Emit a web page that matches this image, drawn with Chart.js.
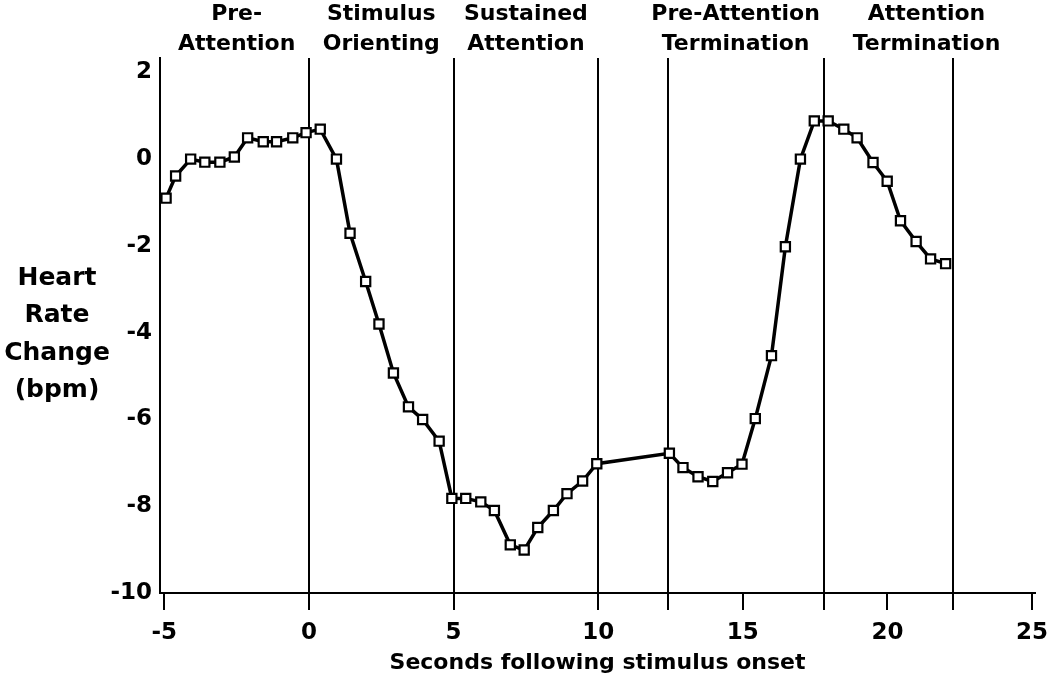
<!DOCTYPE html>
<html>
<head>
<meta charset="utf-8">
<script src="https://cdn.jsdelivr.net/npm/chart.js@4/dist/chart.umd.min.js"></script>
<style>
  html, body { margin: 0; padding: 0; background: #fff; }
  #wrap { width: 1050px; height: 687px; }
</style>
</head>
<body>
<div id="wrap"><canvas id="hrChart" width="1050" height="687"></canvas></div>
<script>
// seconds following stimulus onset
const timeSec = [-4.94, -4.61, -4.09, -3.6, -3.08, -2.58, -2.12, -1.58, -1.12, -0.56, -0.1, 0.39,
    0.95, 1.42, 1.96, 2.42, 2.92, 3.44, 3.93, 4.5, 4.94, 5.42, 5.94, 6.41, 6.96, 7.44, 7.91,
    8.45, 8.92, 9.46, 9.95, 12.46, 12.93, 13.45, 13.96, 14.47, 14.97, 15.43, 15.99, 16.47,
    16.99, 17.47, 17.95, 18.49, 18.95, 19.5, 19.99, 20.45, 20.99, 21.49, 22.01];

// heart rate change (bpm)
const hrChange = [-0.9, -0.39, 0.0, -0.07, -0.07, 0.05, 0.49, 0.4, 0.4, 0.49, 0.61, 0.69,
    0.0, -1.71, -2.82, -3.8, -4.93, -5.71, -6.0, -6.5, -7.82, -7.82, -7.9, -8.1, -8.89, -9.01, -8.49,
    -8.1, -7.71, -7.42, -7.02, -6.78, -7.11, -7.32, -7.43, -7.23, -7.03, -5.98, -4.53, -2.02,
    0.0, 0.88, 0.88, 0.69, 0.49, -0.08, -0.51, -1.42, -1.9, -2.3, -2.41];

// phase boundary lines (seconds) and phase names, with the second each name is centred on
const phaseBounds = [0, 5, 10, 12.4, 17.8, 22.25];
const phaseNames = [
    ['Pre-', 'Attention'],
    ['Stimulus', 'Orienting'],
    ['Sustained', 'Attention'],
    ['Pre-Attention', 'Termination'],
    ['Attention', 'Termination']
];
const phaseNameAt = [-2.5, 2.5, 7.5, 14.75, 21.35];

const xTitle = 'Seconds following stimulus onset';
const yTitle = ['Heart', 'Rate', 'Change', '(bpm)'];

const FONT = 'DejaVu Sans';
const tickFont = { family: FONT, size: 23, weight: 'bold' };

const phasePlugin = {
    id: 'phases',
    beforeDatasetsDraw(chart) {
        const ctx = chart.ctx;
        const area = chart.chartArea;
        const xs = chart.scales.x;
        ctx.save();
        ctx.strokeStyle = '#000';
        ctx.lineWidth = 2;
        phaseBounds.forEach(v => {
            const px = Math.round(xs.getPixelForValue(v));
            ctx.beginPath();
            ctx.moveTo(px, area.top);
            ctx.lineTo(px, area.bottom + 17);
            ctx.stroke();
        });
        ctx.restore();
    },
    afterDraw(chart) {
        const ctx = chart.ctx;
        const area = chart.chartArea;
        const xs = chart.scales.x;
        ctx.save();
        ctx.fillStyle = '#000';
        ctx.textAlign = 'center';
        ctx.textBaseline = 'middle';

        ctx.font = 'bold 22px "' + FONT + '"';
        phaseNames.forEach((lines, i) => {
            const cx = xs.getPixelForValue(phaseNameAt[i]);
            ctx.fillText(lines[0], cx, 14);
            ctx.fillText(lines[1], cx, 44);
        });

        // x title
        ctx.fillText(xTitle, (area.left + area.right) / 2, 663);

        // y title
        ctx.font = 'bold 25px "' + FONT + '"';
        yTitle.forEach((t, i) => {
            ctx.fillText(t, 57, 278 + i * 37.5);
        });
        ctx.restore();
    }
};

const config = {
    type: 'line',
    data: {
        datasets: [{
            data: timeSec.map((t, i) => ({ x: t, y: hrChange[i] })),
            borderColor: '#000',
            borderWidth: 3.5,
            tension: 0,
            pointStyle: 'rect',
            pointRadius: 6.5,
            pointBorderWidth: 2.2,
            pointBorderColor: '#000',
            pointBackgroundColor: '#fff'
        }]
    },
    options: {
        responsive: false,
        animation: false,
        layout: { padding: { top: 58, right: 15, left: 0, bottom: 0 } },
        plugins: {
            legend: { display: false },
            tooltip: { enabled: false }
        },
        scales: {
            x: {
                type: 'linear',
                min: -5.15,
                max: 25.1,
                ticks: {
                    stepSize: 5,
                    includeBounds: false,
                    color: '#000',
                    font: tickFont,
                    padding: 9,
                    maxRotation: 0
                },
                grid: {
                    drawOnChartArea: false,
                    drawTicks: true,
                    tickLength: 17,
                    color: '#000',
                    lineWidth: 2
                },
                border: { color: '#000', width: 2 },
                afterFit(s) {
                    s.height = 94;
                    s.paddingLeft = 0;
                    s.paddingRight = 0;
                }
            },
            y: {
                min: -10,
                max: 2.33,
                ticks: {
                    stepSize: 2,
                    includeBounds: false,
                    color: '#000',
                    font: tickFont,
                    padding: 0
                },
                grid: { display: false },
                border: { color: '#000', width: 2 },
                afterFit(s) {
                    s.width = 160;
                    s.paddingTop = 0;
                    s.paddingBottom = 0;
                }
            }
        }
    },
    plugins: [phasePlugin]
};

const myChart = new Chart(document.getElementById('hrChart'), config);
</script>
</body>
</html>
